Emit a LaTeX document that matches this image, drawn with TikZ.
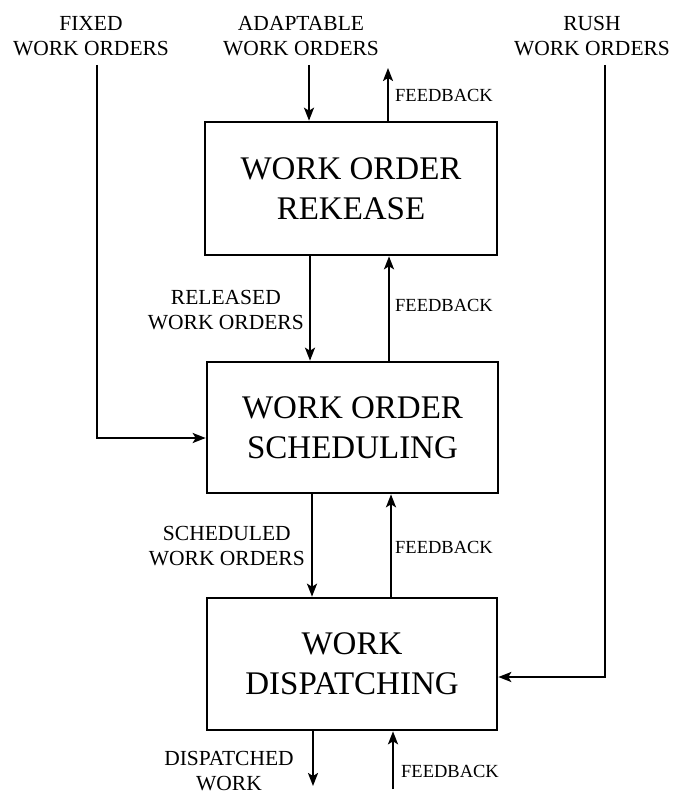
\documentclass[tikz,border=0pt]{standalone}
\usepackage{fontspec}
\setmainfont{Liberation Serif}
\usetikzlibrary{arrows.meta}
\begin{document}
\begin{tikzpicture}[x=1pt,y=-1pt,
  box/.style={draw,line width=2.6pt,align=center,inner sep=0pt,
    font=\fontsize{33}{40}\selectfont},
  lbl/.style={align=center,inner sep=0pt,font=\fontsize{21.5}{25}\selectfont},
  fb/.style={anchor=west,inner sep=0pt,font=\fontsize{18.5}{20}\selectfont},
  flow/.style={line width=2.1pt,-{Stealth[length=13pt,width=10pt,inset=3pt]}}]
\useasboundingbox (0,0) rectangle (674,799);
% boxes
\node[box,minimum width=292pt,minimum height=133pt] (b1) at (351,188.5) {WORK ORDER\\REKEASE};
\node[box,minimum width=291pt,minimum height=131pt] (b2) at (352.5,427.5) {WORK ORDER\\SCHEDULING};
\node[box,minimum width=290pt,minimum height=132pt] (b3) at (352,664) {WORK\\DISPATCHING};
% top labels
\node[lbl] (fixed) at (91,36) {FIXED\\WORK ORDERS};
\node[lbl] (adapt) at (301,36) {ADAPTABLE\\WORK ORDERS};
\node[lbl] (rush) at (592,36) {RUSH\\WORK ORDERS};
% middle labels
\node[lbl,anchor=east] (rel) at (304,310) {RELEASED\\WORK ORDERS};
\node[lbl,anchor=east] (sch) at (305,546) {SCHEDULED\\WORK ORDERS};
\node[lbl] (disp) at (229,771) {DISPATCHED\\WORK};
% feedback labels
\node[fb] (fb1) at (395,95) {FEEDBACK};
\node[fb] (fb2) at (395,305) {FEEDBACK};
\node[fb] (fb3) at (395,547) {FEEDBACK};
\node[fb] (fb4) at (401,771) {FEEDBACK};
% coordinates
\coordinate (a1) at (309,65);
\coordinate (u1) at (388,68);
\coordinate (fx1) at (97,65);
\coordinate (fx2) at (97,438);
\coordinate (rs1) at (605,65);
\coordinate (rs2) at (605,677);
\coordinate (d1) at (313,786);
\coordinate (u4) at (393,789);
% connectors
\draw[flow] (a1) -- (a1 |- b1.north);
\draw[flow] (u1 |- b1.north) -- (u1);
\draw[flow] (310,255) coordinate (r0) -- (r0 |- b2.north);
\draw[flow] (389,362) coordinate (r1) -- (r1 |- b1.south);
\draw[flow] (312,493) coordinate (s0) -- (s0 |- b3.north);
\draw[flow] (391,598) coordinate (s1) -- (s1 |- b2.south);
\draw[flow] (d1 |- b3.south) -- (d1);
\draw[flow] (u4) -- (u4 |- b3.south);
\draw[flow] (fx1) -- (fx2) -- (fx2 -| b2.west);
\draw[flow] (rs1) -- (rs2) -- (rs2 -| b3.east);
\end{tikzpicture}
\end{document}
